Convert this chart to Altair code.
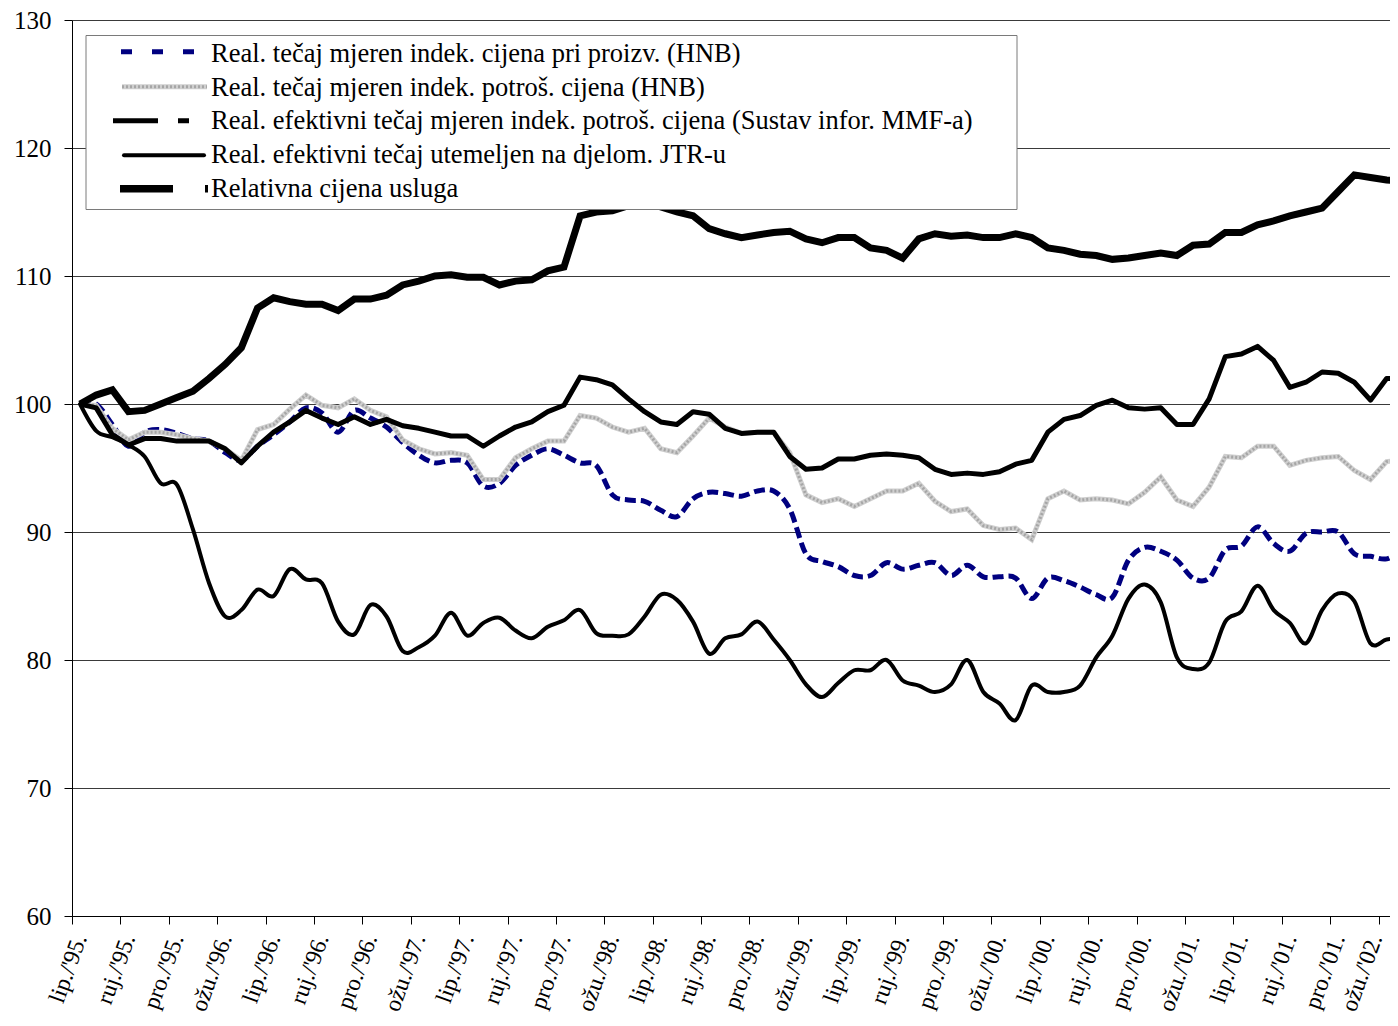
import json
import altair as alt
import pandas as pd

# month index 0 = lip./'95 (June 1995), monthly
MONTHS = list(range(83))

PPI_HNB = [100.0, 100.0, 98.4, 96.7, 97.8, 98.0, 97.7, 97.3, 97.1, 96.2,
           95.6, 96.7, 97.6, 98.6, 99.7, 99.3, 97.8, 99.5, 98.9, 98.2,
           97.0, 96.0, 95.4, 95.6, 95.4, 93.6, 93.8, 95.2, 96.0, 96.5,
           96.0, 95.4, 95.2, 92.9, 92.5, 92.4, 91.7, 91.2, 92.6, 93.1,
           93.0, 92.8, 93.2, 93.2, 91.8, 88.3, 87.7, 87.3, 86.6, 86.6,
           87.6, 87.1, 87.4, 87.6, 86.6, 87.4, 86.5, 86.5, 86.4, 84.8,
           86.4, 86.2, 85.7, 85.1, 84.9, 87.8, 88.8, 88.5, 87.8, 86.4,
           86.4, 88.6, 88.9, 90.4, 89.1, 88.5, 89.9, 90.0, 90.0, 88.3,
           88.1, 87.9, 88.6]

CPI_HNB = [100.0, 99.9, 98.1, 97.2, 97.8, 97.8, 97.6, 97.3, 97.1, 96.5,
           95.6, 98.0, 98.4, 99.6, 100.7, 99.9, 99.7, 100.4, 99.5, 99.0,
           97.2, 96.5, 96.1, 96.2, 96.0, 94.1, 94.1, 95.8, 96.5, 97.1,
           97.1, 99.1, 98.9, 98.2, 97.8, 98.1, 96.5, 96.2, 97.5, 98.9,
           98.2, 97.7, 97.8, 97.8, 96.2, 92.9, 92.3, 92.6, 92.0, 92.6,
           93.2, 93.2, 93.8, 92.4, 91.6, 91.8, 90.5, 90.2, 90.3, 89.4,
           92.6, 93.2, 92.5, 92.6, 92.5, 92.2, 93.1, 94.3, 92.5, 92.0,
           93.5, 95.9, 95.8, 96.7, 96.7, 95.2, 95.6, 95.8, 95.9, 94.8,
           94.1, 95.5, 95.6]

CPI_MMF = [100.0, 99.7, 97.6, 96.8, 97.3, 97.3, 97.1, 97.1, 97.1, 96.5,
           95.4, 96.7, 97.8, 98.6, 99.5, 98.9, 98.4, 99.0, 98.4, 98.8,
           98.3, 98.1, 97.8, 97.5, 97.5, 96.7, 97.5, 98.2, 98.6, 99.4,
           99.9, 102.1, 101.9, 101.5, 100.4, 99.4, 98.6, 98.4, 99.4, 99.2,
           98.1, 97.7, 97.8, 97.8, 95.9, 94.9, 95.0, 95.7, 95.7, 96.0,
           96.1, 96.0, 95.8, 94.9, 94.5, 94.6, 94.5, 94.7, 95.3, 95.6,
           97.8, 98.8, 99.1, 99.9, 100.3, 99.7, 99.6, 99.7, 98.4, 98.4,
           100.4, 103.7, 103.9, 104.5, 103.4, 101.3, 101.7, 102.5, 102.4, 101.7,
           100.3, 102.0, 102.0]

ULC_JTR = [100.0, 97.9, 97.4, 96.8, 95.9, 93.8, 93.7, 90.2, 86.0, 83.4,
           83.9, 85.5, 85.0, 87.1, 86.3, 86.0, 83.0, 82.0, 84.3, 83.4,
           80.7, 81.0, 81.9, 83.7, 81.9, 82.9, 83.3, 82.3, 81.7, 82.6,
           83.1, 83.9, 82.1, 81.9, 82.0, 83.4, 85.1, 84.7, 83.0, 80.5,
           81.7, 82.0, 83.0, 81.6, 80.0, 78.1, 77.1, 78.2, 79.2, 79.2,
           80.0, 78.4, 78.0, 77.5, 78.1, 80.0, 77.5, 76.6, 75.3, 78.0,
           77.5, 77.5, 78.0, 80.2, 81.9, 84.8, 85.9, 84.5, 80.2, 79.3,
           79.8, 83.0, 83.8, 85.8, 83.9, 82.9, 81.3, 83.9, 85.2, 84.6,
           81.3, 81.6, 81.7]

SERVICES = [100.0, 100.7, 101.1, 99.4, 99.5, 100.0, 100.5, 101.0, 102.0, 103.1,
            104.4, 107.5, 108.3, 108.0, 107.8, 107.8, 107.3, 108.2, 108.2, 108.5,
            109.3, 109.6, 110.0, 110.1, 109.9, 109.9, 109.3, 109.6, 109.7, 110.4,
            110.7, 114.7, 115.0, 115.1, 115.5, 115.7, 115.4, 115.0, 114.7, 113.7,
            113.3, 113.0, 113.2, 113.4, 113.5, 112.9, 112.6, 113.0, 113.0, 112.2,
            112.0, 111.4, 112.9, 113.3, 113.1, 113.2, 113.0, 113.0, 113.3, 113.0,
            112.2, 112.0, 111.7, 111.6, 111.3, 111.4, 111.6, 111.8, 111.6, 112.4,
            112.5, 113.4, 113.4, 114.0, 114.3, 114.7, 115.0, 115.3, 116.6, 117.9,
            117.7, 117.5, 117.4]

TICK_LABELS = ["lip./'95.", "ruj./'95.", "pro./'95.", "ožu./'96.", "lip./'96.",
               "ruj./'96.", "pro./'96.", "ožu./'97.", "lip./'97.", "ruj./'97.",
               "pro./'97.", "ožu./'98.", "lip./'98.", "ruj./'98.", "pro./'98.",
               "ožu./'99.", "lip./'99.", "ruj./'99.", "pro./'99.", "ožu./'00.",
               "lip./'00.", "ruj./'00.", "pro./'00.", "ožu./'01.", "lip./'01.",
               "ruj./'01.", "pro./'01.", "ožu./'02."]

Y_TICKS = [60, 70, 80, 90, 100, 110, 120, 130]

SERIES = ["Real. tečaj mjeren indek. cijena pri proizv. (HNB)",
          "Real. tečaj mjeren indek. potroš. cijena (HNB)",
          "Real. efektivni tečaj mjeren indek. potroš. cijena (Sustav infor. MMF-a)",
          "Real. efektivni tečaj utemeljen na djelom. JTR-u",
          "Relativna cijena usluga"]

FONT = "Liberation Serif"
W, H = 1318, 896
PX_PER_MONTH = 16.13
X_MIN = -0.5
X_MAX = X_MIN + W / PX_PER_MONTH

x_enc = alt.X(
    "m:Q",
    scale=alt.Scale(domain=[X_MIN, X_MAX], nice=False, zero=False),
    axis=alt.Axis(
        values=[3 * k - 0.5 for k in range(len(TICK_LABELS))],
        labelExpr=json.dumps(TICK_LABELS, ensure_ascii=False) + "[round((datum.value + 0.5) / 3)]",
        labelOffset={"condition": {"test": "datum.value > 79", "value": -3},
                     "value": PX_PER_MONTH / 2},
        labelAngle=290,
        labelFont=FONT, labelFontSize=23.5, labelColor="black",
        labelPadding=11, labelOverlap=False, labelFlush=False,
        tickSize=8, tickColor="black", domainColor="black",
        grid=False, title=None,
    ),
)
y_enc = alt.Y(
    "v:Q",
    scale=alt.Scale(domain=[60, 130], nice=False, zero=False),
    axis=alt.Axis(
        values=Y_TICKS, labelFont=FONT, labelFontSize=25, labelColor="black",
        labelPadding=13, tickSize=8, tickColor="black", domainColor="black",
        grid=True, gridColor="#3a3a3a", gridWidth=1, title=None,
    ),
)


def frame(vals):
    return pd.DataFrame({"m": MONTHS, "v": vals})


ppi = alt.Chart(frame(PPI_HNB)).mark_line(
    color="#000080", strokeWidth=5, strokeDash=[11, 5], interpolate="cardinal", clip=True
).encode(x=x_enc, y=y_enc)

cpi_base = alt.Chart(frame(CPI_HNB)).mark_line(
    color="#cfcfcf", strokeWidth=5, clip=True
).encode(x=x_enc, y=y_enc)
cpi_tex = alt.Chart(frame(CPI_HNB)).mark_line(
    color="#a6a6a6", strokeWidth=3, strokeDash=[2, 2], clip=True
).encode(x=x_enc, y=y_enc)

mmf = alt.Chart(frame(CPI_MMF)).mark_line(
    color="black", strokeWidth=5, clip=True, strokeJoin="round"
).encode(x=x_enc, y=y_enc)

ulc = alt.Chart(frame(ULC_JTR)).mark_line(
    color="black", strokeWidth=4, interpolate="cardinal", clip=True, strokeCap="round"
).encode(x=x_enc, y=y_enc)

serv = alt.Chart(frame(SERVICES)).mark_line(
    color="black", strokeWidth=7, clip=True
).encode(x=x_enc, y=y_enc)

# ---- legend (drawn box, in pixel space of the plot area) ----
one = alt.Data(values=[{"k": 0}])
legend_layers = [
    alt.Chart(one).mark_rect(fill="white", stroke="#7a7a7a", strokeWidth=1).encode(
        x=alt.value(14), x2=alt.value(945), y=alt.value(15.5), y2=alt.value(189.5))
]
SYM_Y = [31.8, 66.8, 100.8, 135.2, 168.8]
TXT_Y = [41.5, 75.5, 109.3, 143.0, 176.8]
sym_specs = [
    dict(x=49, x2=122, color="#000080", strokeWidth=5, strokeDash=[11, 20]),
    dict(x=50, x2=135, color="#cfcfcf", strokeWidth=5),
    dict(x=41, x2=117, color="black", strokeWidth=5, strokeDash=[45, 20]),
    dict(x=52, x2=132, color="black", strokeWidth=4, strokeCap="round"),
    dict(x=48, x2=136, color="black", strokeWidth=7.5, strokeDash=[53, 32]),
]
for i, (name, spec) in enumerate(zip(SERIES, sym_specs)):
    xs, xe = spec.pop("x"), spec.pop("x2")
    legend_layers.append(
        alt.Chart(one).mark_rule(**spec).encode(
            x=alt.value(xs), x2=alt.value(xe), y=alt.value(SYM_Y[i]))
    )
    if i == 1:
        legend_layers.append(
            alt.Chart(one).mark_rule(color="#a6a6a6", strokeWidth=3, strokeDash=[2, 2]).encode(
                x=alt.value(xs), x2=alt.value(xe), y=alt.value(SYM_Y[i]))
        )
    legend_layers.append(
        alt.Chart(alt.Data(values=[{"label": name}])).mark_text(
            align="left", baseline="alphabetic", font=FONT, fontSize=26.5, color="black"
        ).encode(x=alt.value(139), y=alt.value(TXT_Y[i]), text="label:N")
    )

chart = alt.layer(ppi, cpi_base, cpi_tex, mmf, ulc, serv, *legend_layers).properties(
    width=W, height=H,
    padding={"left": 64, "top": 12, "right": 0, "bottom": 100},
    autosize=alt.AutoSizeParams(type="none"),
    background="white",
).configure_view(stroke=None)

chart.save("out.html", embed_options={"renderer": "svg", "actions": False})
